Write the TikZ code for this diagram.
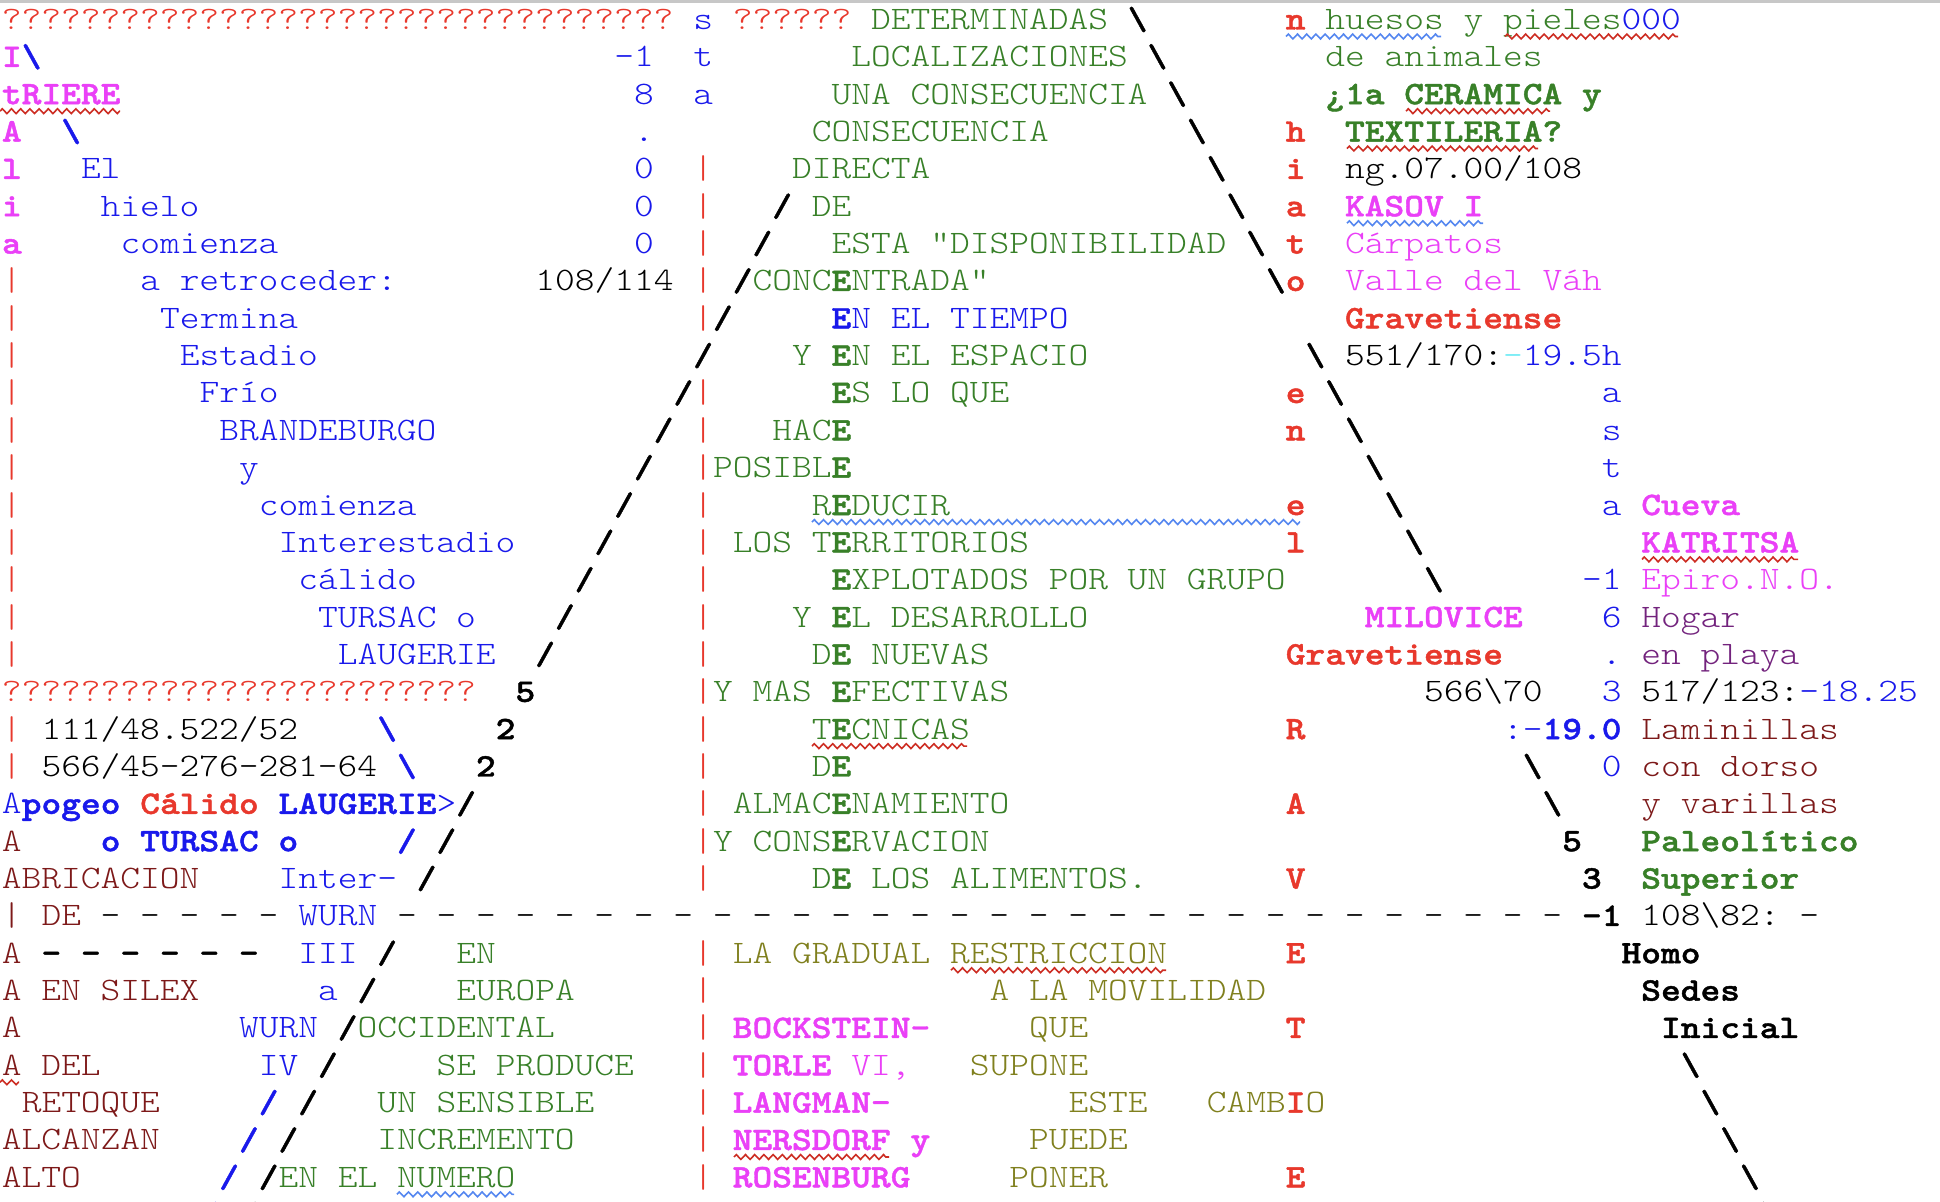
\documentclass[tikz,border=0pt]{standalone}
\usepackage{fontspec}
\usetikzlibrary{decorations.pathmorphing}
\newfontfamily\mono{lmmonolt10-regular.otf}[BoldFont=lmmonolt10-bold.otf, FakeStretch=1.1469, BoldFeatures={FakeBold=1.3}]
\definecolor{cRed}{RGB}{232,56,44}
\definecolor{cBlue}{RGB}{25,25,235}
\definecolor{cGreen}{RGB}{56,128,40}
\definecolor{cMag}{RGB}{234,64,247}
\definecolor{cDarkRed}{RGB}{125,25,25}
\definecolor{cPurple}{RGB}{115,35,125}
\definecolor{cOlive}{RGB}{128,128,30}
\definecolor{cCyan}{RGB}{110,235,245}
\definecolor{sqRed}{RGB}{205,45,35}
\definecolor{sqBlue}{RGB}{85,135,240}
\newcommand\PX[1]{(1+#1*9.875)*1pt}
\newcommand\PY[1]{-(14.75+#1*18.675)*1pt}
\newcommand\txr[4]{\node[tr,text=#3] (n#2x#1) at ({\PX{#1}},{\PY{#2}}) {#4};}
\newcommand\txb[4]{\node[tb,text=#3] (n#2x#1) at ({\PX{#1}},{\PY{#2}}) {#4};}
\newcommand\sq[4]{\draw[squig,#4] ({#2*0.5pt},{\PY{#1}-3.5pt}) -- ({#3*0.5pt},{\PY{#1}-3.5pt});}
\newcommand\bs{\textbackslash}
\begin{document}
\frenchspacing
\begin{tikzpicture}[
  tr/.style={inner sep=0pt, outer sep=0pt, anchor=base west, font=\mono\fontsize{16.4pt}{18.7pt}\selectfont},
  tb/.style={tr, font=\mono\fontsize{16.4pt}{18.7pt}\selectfont\bfseries},
  squig/.style={line width=0.8pt, decorate, decoration={zigzag, segment length=4.6pt, amplitude=1.2pt}}
]
\useasboundingbox (0,0) rectangle (970pt,-601pt);
\clip (0,0) rectangle (970pt,-601pt);
\fill[white] (0,0) rectangle (970pt,-601pt);
\fill[black!22] (0,0) rectangle (970pt,-1.3pt);
% row 0
\txr{0}{0}{cRed}{??????????????????????????????????}
\txr{35}{0}{cBlue}{s}
\txr{37}{0}{cRed}{??????}
\txr{44}{0}{cGreen}{DETERMINADAS}
\txb{57}{0}{black}{\bs}
\txb{65}{0}{cRed}{n}
\txr{67}{0}{cGreen}{huesos y pieles}
\txr{82}{0}{cBlue}{000}
% row 1
\txb{0}{1}{cMag}{I}
\txb{1}{1}{cBlue}{\bs}
\txr{31}{1}{cBlue}{-1}
\txr{35}{1}{cBlue}{t}
\txr{43}{1}{cGreen}{LOCALIZACIONES}
\txb{58}{1}{black}{\bs}
\txr{67}{1}{cGreen}{de animales}
% row 2
\txb{0}{2}{cMag}{tRIERE}
\txr{32}{2}{cBlue}{8}
\txr{35}{2}{cBlue}{a}
\txr{42}{2}{cGreen}{UNA CONSECUENCIA}
\txb{59}{2}{black}{\bs}
\txb{67}{2}{cGreen}{¿1a CERAMICA y}
% row 3
\txb{0}{3}{cMag}{A}
\txb{3}{3}{cBlue}{\bs}
\txr{32}{3}{cBlue}{.}
\txr{41}{3}{cGreen}{CONSECUENCIA}
\txb{60}{3}{black}{\bs}
\txb{65}{3}{cRed}{h}
\txb{68}{3}{cGreen}{TEXTILERIA?}
% row 4
\txb{0}{4}{cMag}{l}
\txr{4}{4}{cBlue}{El}
\txr{32}{4}{cBlue}{0}
\txr{35}{4}{cRed}{|}
\txr{40}{4}{cGreen}{DIRECTA}
\txb{61}{4}{black}{\bs}
\txb{65}{4}{cRed}{i}
\txr{68}{4}{black}{ng.07.00/108}
% row 5
\txb{0}{5}{cMag}{i}
\txr{5}{5}{cBlue}{hielo}
\txr{32}{5}{cBlue}{0}
\txr{35}{5}{cRed}{|}
\txb{39}{5}{black}{/}
\txr{41}{5}{cGreen}{DE}
\txb{62}{5}{black}{\bs}
\txb{65}{5}{cRed}{a}
\txb{68}{5}{cMag}{KASOV I}
% row 6
\txb{0}{6}{cMag}{a}
\txr{6}{6}{cBlue}{comienza}
\txr{32}{6}{cBlue}{0}
\txr{35}{6}{cRed}{|}
\txb{38}{6}{black}{/}
\txr{42}{6}{cGreen}{ESTA "DISPONIBILIDAD}
\txb{63}{6}{black}{\bs}
\txb{65}{6}{cRed}{t}
\txr{68}{6}{cMag}{Cárpatos}
% row 7
\txr{0}{7}{cRed}{|}
\txr{7}{7}{cBlue}{a retroceder:}
\txr{27}{7}{black}{108/114}
\txr{35}{7}{cRed}{|}
\txb{37}{7}{black}{/}
\txr{38}{7}{cGreen}{CONC}
\txb{42}{7}{cGreen}{E}
\txr{43}{7}{cGreen}{NTRADA"}
\txb{64}{7}{black}{\bs}
\txb{65}{7}{cRed}{o}
\txr{68}{7}{cMag}{Valle del Váh}
% row 8
\txr{0}{8}{cRed}{|}
\txr{8}{8}{cBlue}{Termina}
\txr{35}{8}{cRed}{|}
\txb{36}{8}{black}{/}
\txb{42}{8}{cBlue}{E}
\txr{43}{8}{cBlue}{N EL TIEMPO}
\txb{68}{8}{cRed}{Gravetiense}
% row 9
\txr{0}{9}{cRed}{|}
\txr{9}{9}{cBlue}{Estadio}
\txb{35}{9}{black}{/}
\txr{40}{9}{cGreen}{Y}
\txb{42}{9}{cGreen}{E}
\txr{43}{9}{cGreen}{N EL ESPACIO}
\txb{66}{9}{black}{\bs}
\txr{68}{9}{black}{551/170:}
\txr{76}{9}{cCyan}{-}
\txr{77}{9}{cBlue}{19.5h}
% row 10
\txr{0}{10}{cRed}{|}
\txr{10}{10}{cBlue}{Frío}
\txb{34}{10}{black}{/}
\txr{35}{10}{cRed}{|}
\txb{42}{10}{cGreen}{E}
\txr{43}{10}{cGreen}{S LO QUE}
\txb{65}{10}{cRed}{e}
\txb{67}{10}{black}{\bs}
\txr{81}{10}{cBlue}{a}
% row 11
\txr{0}{11}{cRed}{|}
\txr{11}{11}{cBlue}{BRANDEBURGO}
\txb{33}{11}{black}{/}
\txr{35}{11}{cRed}{|}
\txr{39}{11}{cGreen}{HAC}
\txb{42}{11}{cGreen}{E}
\txb{65}{11}{cRed}{n}
\txb{68}{11}{black}{\bs}
\txr{81}{11}{cBlue}{s}
% row 12
\txr{0}{12}{cRed}{|}
\txr{12}{12}{cBlue}{y}
\txb{32}{12}{black}{/}
\txr{35}{12}{cRed}{|}
\txr{36}{12}{cGreen}{POSIBL}
\txb{42}{12}{cGreen}{E}
\txb{69}{12}{black}{\bs}
\txr{81}{12}{cBlue}{t}
% row 13
\txr{0}{13}{cRed}{|}
\txr{13}{13}{cBlue}{comienza}
\txb{31}{13}{black}{/}
\txr{35}{13}{cRed}{|}
\txr{41}{13}{cGreen}{R}
\txb{42}{13}{cGreen}{E}
\txr{43}{13}{cGreen}{DUCIR}
\txb{65}{13}{cRed}{e}
\txb{70}{13}{black}{\bs}
\txr{81}{13}{cBlue}{a}
\txb{83}{13}{cMag}{Cueva}
% row 14
\txr{0}{14}{cRed}{|}
\txr{14}{14}{cBlue}{Interestadio}
\txb{30}{14}{black}{/}
\txr{35}{14}{cRed}{|}
\txr{37}{14}{cGreen}{LOS}
\txr{41}{14}{cGreen}{T}
\txb{42}{14}{cGreen}{E}
\txr{43}{14}{cGreen}{RRITORIOS}
\txb{65}{14}{cRed}{l}
\txb{71}{14}{black}{\bs}
\txb{83}{14}{cMag}{KATRITSA}
% row 15
\txr{0}{15}{cRed}{|}
\txr{15}{15}{cBlue}{cálido}
\txb{29}{15}{black}{/}
\txr{35}{15}{cRed}{|}
\txb{42}{15}{cGreen}{E}
\txr{43}{15}{cGreen}{XPLOTADOS POR UN GRUPO}
\txb{72}{15}{black}{\bs}
\txr{80}{15}{cBlue}{-1}
\txr{83}{15}{cMag}{Epiro.N.O.}
% row 16
\txr{0}{16}{cRed}{|}
\txr{16}{16}{cBlue}{TURSAC o}
\txb{28}{16}{black}{/}
\txr{35}{16}{cRed}{|}
\txr{40}{16}{cGreen}{Y}
\txb{42}{16}{cGreen}{E}
\txr{43}{16}{cGreen}{L DESARROLLO}
\txb{69}{16}{cMag}{MILOVICE}
\txr{81}{16}{cBlue}{6}
\txr{83}{16}{cPurple}{Hogar}
% row 17
\txr{0}{17}{cRed}{|}
\txr{17}{17}{cBlue}{LAUGERIE}
\txb{27}{17}{black}{/}
\txr{35}{17}{cRed}{|}
\txr{41}{17}{cGreen}{D}
\txb{42}{17}{cGreen}{E}
\txr{44}{17}{cGreen}{NUEVAS}
\txb{65}{17}{cRed}{Gravetiense}
\txr{81}{17}{cBlue}{.}
\txr{83}{17}{cPurple}{en playa}
% row 18
\txr{0}{18}{cRed}{????????????????????????}
\txb{26}{18}{black}{5}
\txr{35}{18}{cRed}{|}
\txr{36}{18}{cGreen}{Y MAS}
\txb{42}{18}{cGreen}{E}
\txr{43}{18}{cGreen}{FECTIVAS}
\txr{72}{18}{black}{566\bs70}
\txr{81}{18}{cBlue}{3}
\txr{83}{18}{black}{517/123:}
\txr{91}{18}{cBlue}{-18.25}
% row 19
\txr{0}{19}{cRed}{|}
\txr{2}{19}{black}{111/48.522/52}
\txb{19}{19}{cBlue}{\bs}
\txb{25}{19}{black}{2}
\txr{35}{19}{cRed}{|}
\txr{41}{19}{cGreen}{T}
\txb{42}{19}{cGreen}{E}
\txr{43}{19}{cGreen}{CNICAS}
\txb{65}{19}{cRed}{R}
\txr{76}{19}{cBlue}{:-}
\txb{78}{19}{cBlue}{19.0}
\txr{83}{19}{cDarkRed}{Laminillas}
% row 20
\txr{0}{20}{cRed}{|}
\txr{2}{20}{black}{566/45-276-281-64}
\txb{20}{20}{cBlue}{\bs}
\txb{24}{20}{black}{2}
\txr{35}{20}{cRed}{|}
\txr{41}{20}{cGreen}{D}
\txb{42}{20}{cGreen}{E}
\txb{77}{20}{black}{\bs}
\txr{81}{20}{cBlue}{0}
\txr{83}{20}{cDarkRed}{con dorso}
% row 21
\txr{0}{21}{cBlue}{A}
\txb{1}{21}{cBlue}{pogeo}
\txb{7}{21}{cRed}{Cálido}
\txb{14}{21}{cBlue}{LAUGERIE}
\txr{22}{21}{cBlue}{>}
\txb{23}{21}{black}{/}
\txr{35}{21}{cRed}{|}
\txr{37}{21}{cGreen}{ALMAC}
\txb{42}{21}{cGreen}{E}
\txr{43}{21}{cGreen}{NAMIENTO}
\txb{65}{21}{cRed}{A}
\txb{78}{21}{black}{\bs}
\txr{83}{21}{cDarkRed}{y varillas}
% row 22
\txr{0}{22}{cDarkRed}{A}
\txb{5}{22}{cBlue}{o TURSAC o}
\txb{20}{22}{cBlue}{/}
\txb{22}{22}{black}{/}
\txr{35}{22}{cRed}{|}
\txr{36}{22}{cGreen}{Y CONS}
\txb{42}{22}{cGreen}{E}
\txr{43}{22}{cGreen}{RVACION}
\txb{79}{22}{black}{5}
\txb{83}{22}{cGreen}{Paleolítico}
% row 23
\txr{0}{23}{cDarkRed}{ABRICACION}
\txr{14}{23}{cBlue}{Inter-}
\txb{21}{23}{black}{/}
\txr{35}{23}{cRed}{|}
\txr{41}{23}{cGreen}{D}
\txb{42}{23}{cGreen}{E}
\txr{44}{23}{cGreen}{LOS ALIMENTOS.}
\txb{65}{23}{cRed}{V}
\txb{80}{23}{black}{3}
\txb{83}{23}{cGreen}{Superior}
% row 24
\txr{0}{24}{cDarkRed}{|}
\txr{2}{24}{cDarkRed}{DE}
\txr{5}{24}{black}{- - - - -}
\txr{15}{24}{cBlue}{WURN}
\txr{20}{24}{black}{- - - - - - - - - - - - - - - - - - - - - - - - - - - - - -}
\txb{80}{24}{black}{-1}
\txr{83}{24}{black}{108\bs82:}
\txr{91}{24}{black}{-}
% row 25
\txr{0}{25}{cDarkRed}{A}
\txb{2}{25}{black}{- - - - - -}
\txr{15}{25}{cBlue}{III}
\txb{19}{25}{black}{/}
\txr{23}{25}{cGreen}{EN}
\txr{35}{25}{cRed}{|}
\txr{37}{25}{cOlive}{LA GRADUAL RESTRICCION}
\txb{65}{25}{cRed}{E}
\txb{82}{25}{black}{Homo}
% row 26
\txr{0}{26}{cDarkRed}{A EN SILEX}
\txr{16}{26}{cBlue}{a}
\txb{18}{26}{black}{/}
\txr{23}{26}{cGreen}{EUROPA}
\txr{35}{26}{cRed}{|}
\txr{50}{26}{cOlive}{A LA MOVILIDAD}
\txb{83}{26}{black}{Sedes}
% row 27
\txr{0}{27}{cDarkRed}{A}
\txr{12}{27}{cBlue}{WURN}
\txb{17}{27}{black}{/}
\txr{18}{27}{cGreen}{OCCIDENTAL}
\txr{35}{27}{cRed}{|}
\txb{37}{27}{cMag}{BOCKSTEIN-}
\txr{52}{27}{cOlive}{QUE}
\txb{65}{27}{cRed}{T}
\txb{84}{27}{black}{Inicial}
% row 28
\txr{0}{28}{cDarkRed}{A DEL}
\txr{13}{28}{cBlue}{IV}
\txb{16}{28}{black}{/}
\txr{22}{28}{cGreen}{SE PRODUCE}
\txr{35}{28}{cRed}{|}
\txb{37}{28}{cMag}{TORLE}
\txr{43}{28}{cMag}{VI,}
\txr{49}{28}{cOlive}{SUPONE}
\txb{85}{28}{black}{\bs}
% row 29
\txr{1}{29}{cDarkRed}{RETOQUE}
\txb{13}{29}{cBlue}{/}
\txb{15}{29}{black}{/}
\txr{19}{29}{cGreen}{UN SENSIBLE}
\txr{35}{29}{cRed}{|}
\txb{37}{29}{cMag}{LANGMAN-}
\txr{54}{29}{cOlive}{ESTE}
\txr{61}{29}{cOlive}{CAMB}
\txb{65}{29}{cRed}{I}
\txr{66}{29}{cOlive}{O}
\txb{86}{29}{black}{\bs}
% row 30
\txr{0}{30}{cDarkRed}{ALCANZAN}
\txb{12}{30}{cBlue}{/}
\txb{14}{30}{black}{/}
\txr{19}{30}{cGreen}{INCREMENTO}
\txr{35}{30}{cRed}{|}
\txb{37}{30}{cMag}{NERSDORF y}
\txr{52}{30}{cOlive}{PUEDE}
\txb{87}{30}{black}{\bs}
% row 31
\txr{0}{31}{cDarkRed}{ALTO}
\txb{11}{31}{cBlue}{/}
\txb{13}{31}{black}{/}
\txr{14}{31}{cGreen}{EN EL NUMERO}
\txr{35}{31}{cRed}{|}
\txb{37}{31}{cMag}{ROSENBURG}
\txr{51}{31}{cOlive}{PONER}
\txb{65}{31}{cRed}{E}
\txb{88}{31}{black}{\bs}
% row 32 (cut off by the lower edge, as in the original)
\txb{10}{32}{cBlue}{/}
\txb{12}{32}{black}{/}
\txb{89}{32}{black}{\bs}
% spell-check squiggles
\sq{0}{1286}{1441}{sqBlue}
\sq{0}{1505}{1678}{sqRed}
\sq{2}{0}{120}{sqRed}
\sq{2}{1406}{1550}{sqRed}
\sq{3}{1347}{1538}{sqRed}
\sq{5}{1347}{1483}{sqBlue}
\sq{13}{812}{1300}{sqBlue}
\sq{14}{1642}{1798}{sqRed}
\sq{19}{812}{967}{sqRed}
\sq{25}{951}{1166}{sqRed}
\sq{28}{0}{19}{sqRed}
\sq{30}{734}{889}{sqRed}
\sq{31}{397}{514}{sqBlue}
\end{tikzpicture}
\end{document}
